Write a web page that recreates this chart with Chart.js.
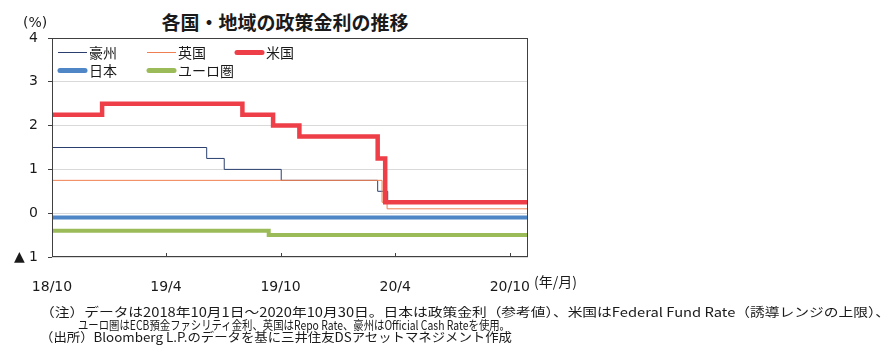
<!DOCTYPE html>
<html><head><meta charset="utf-8">
<script src="https://cdn.jsdelivr.net/npm/chart.js@4"></script>
<style>
html,body{margin:0;padding:0;background:#fff;}
#wrap{position:relative;width:895px;height:359px;overflow:hidden;background:#fff;}
canvas{position:absolute;left:0;top:0;}
.t{position:absolute;white-space:nowrap;font-family:"Noto Sans CJK JP",sans-serif;color:#1a1a1a;}
#title{left:0;width:570px;text-align:center;top:9px;font-size:19px;font-weight:bold;line-height:26px;}
.note{font-size:12.5px;line-height:14px;transform-origin:0 50%;}
</style></head>
<body><div id="wrap">
<div class="t" id="title">各国・地域の政策金利の推移</div>
<canvas id="c" width="895" height="359"></canvas>
<div class="t note" data-w="850" style="left:40px;top:305px">（注）データは2018年10月1日～2020年10月30日。日本は政策金利（参考値）、米国はFederal Fund Rate（誘導レンジの上限）、</div>
<div class="t note" data-w="432" style="left:78px;top:318px">ユーロ圏はECB預金ファシリティ金利、英国はRepo Rate、豪州はOfficial Cash Rateを使用。</div>
<div class="t note" data-w="472" style="left:40px;top:330px">（出所）Bloomberg L.P.のデータを基に三井住友DSアセットマネジメント作成</div>
</div>
<script>
// ---- data ----
const startDate = '2018-10-01';
const endDate = '2020-10-30';
const seriesNames = ['豪州', '英国', '米国', '日本', 'ユーロ圏'];
const ausDates = ['2018-10-01', '2019-06-05', '2019-07-03', '2019-10-02', '2020-03-04', '2020-03-20'];
const ausRates = [1.50, 1.25, 1.00, 0.75, 0.50, 0.25];
const ukDates = ['2018-10-01', '2020-03-11', '2020-03-19'];
const ukRates = [0.75, 0.25, 0.10];
const usDates = ['2018-10-01', '2018-12-20', '2019-08-01', '2019-09-19', '2019-10-31', '2020-03-04', '2020-03-16'];
const usRates = [2.25, 2.50, 2.25, 2.00, 1.75, 1.25, 0.25];
const jpDates = ['2018-10-01'];
const jpRates = [-0.10];
const euDates = ['2018-10-01', '2019-09-12'];
const euRates = [-0.40, -0.50];
const xTickDates = ['2018-10-01', '2019-04-01', '2019-10-01', '2020-04-01', '2020-10-01'];
const xTickLabels = ['18/10', '19/4', '19/10', '20/4', '20/10'];

// ---- helpers ----
function day(s) {
  const [y, m, d] = s.split('-').map(Number);
  const [y0, m0, d0] = startDate.split('-').map(Number);
  return (Date.UTC(y, m - 1, d) - Date.UTC(y0, m0 - 1, d0)) / 86400000;
}
const endDay = day(endDate);
function pts(dates, vals) {
  const p = dates.map((d, i) => ({ x: day(d), y: vals[i] }));
  p.push({ x: endDay, y: vals[vals.length - 1] });
  return p;
}
const xTickDays = xTickDates.map(day);

const ds = (label, dates, vals, color, width, order) => ({
  label, data: pts(dates, vals), borderColor: color, backgroundColor: color,
  borderWidth: width, stepped: true, pointRadius: 0, fill: false, order,
  borderCapStyle: 'butt', borderJoinStyle: 'miter'
});

const extras = {
  id: 'extras',
  afterDraw(chart) {
    const { ctx, chartArea: a, scales: { x } } = chart;
    ctx.save();
    ctx.strokeStyle = '#404040';
    ctx.lineWidth = 1;
    xTickDays.forEach(v => {
      const px = Math.round(x.getPixelForValue(v)) + 0.5;
      ctx.beginPath(); ctx.moveTo(px, a.bottom); ctx.lineTo(px, a.bottom - 4); ctx.stroke();
    });
    ctx.strokeRect(Math.round(a.left) + 0.5, Math.round(a.top) + 0.5,
      Math.round(a.right - a.left) - 1, Math.round(a.bottom - a.top) - 1);
    // legend
    const cols = [a.left + 6, a.left + 95, a.left + 183];
    const rows = [a.top + 14, a.top + 32];
    ctx.font = '14px "Noto Sans CJK JP"';
    ctx.textBaseline = 'middle';
    ctx.textAlign = 'left';
    chart.data.datasets.forEach((d, i) => {
      const r = i < 3 ? 0 : 1, c = i < 3 ? i : i - 3;
      const x0 = cols[c], y0 = rows[r];
      ctx.strokeStyle = d.borderColor;
      ctx.lineWidth = d.borderWidth > 2 ? 5 : 1;
      ctx.lineCap = d.borderWidth > 2 ? 'round' : 'butt';
      ctx.beginPath(); ctx.moveTo(x0 + (d.borderWidth > 2 ? 2 : 0), y0 + 0.5);
      ctx.lineTo(x0 + 29 - (d.borderWidth > 2 ? 2 : 0), y0 + 0.5); ctx.stroke();
      ctx.fillStyle = '#1a1a1a';
      ctx.fillText(d.label, x0 + 31, y0 + 1);
    });
    ctx.font = '14px "DejaVu Sans"';
    ctx.fillText('(%)', 23, 23);
    ctx.font = '14px "Noto Sans CJK JP"';
    ctx.fillText('(年/月)', 534, 282);
    ctx.restore();
  }
};

new Chart(document.getElementById('c'), {
  type: 'line',
  data: {
    datasets: [
      ds(seriesNames[0], ausDates, ausRates, '#2a3f6e', 1, 2),
      ds(seriesNames[1], ukDates, ukRates, '#ef7f50', 1, 1),
      ds(seriesNames[2], usDates, usRates, '#ee3f48', 4.5, 0),
      ds(seriesNames[3], jpDates, jpRates, '#4f86c6', 4, 3),
      ds(seriesNames[4], euDates, euRates, '#9bbb59', 4, 3)
    ]
  },
  options: {
    responsive: false,
    animation: false,
    events: [],
    layout: { padding: { left: 0, top: 38, right: 367, bottom: 0 } },
    plugins: { legend: { display: false }, title: { display: false }, tooltip: { enabled: false } },
    scales: {
      x: {
        type: 'linear', min: 0, max: endDay,
        grid: { display: false },
        border: { display: false },
        afterBuildTicks: s => { s.ticks = xTickDays.map(v => ({ value: v })); },
        afterFit: s => { s.height = 102; },
        ticks: {
          autoSkip: false, maxRotation: 0, padding: 14, color: '#1a1a1a',
          font: { family: 'DejaVu Sans', size: 14 },
          callback: (v, i) => xTickLabels[i]
        }
      },
      y: {
        min: -1, max: 4,
        grid: { color: '#d9d9d9', tickColor: '#404040', tickLength: 4, lineWidth: 1 },
        border: { display: false },
        afterFit: s => { s.width = 52; },
        ticks: {
          stepSize: 1, padding: 10, color: '#1a1a1a',
          font: { family: 'DejaVu Sans', size: 14 },
          callback: v => v < 0 ? '▲ ' + Math.abs(v) : String(v)
        }
      }
    }
  },
  plugins: [extras]
});

function fitNotes() {
  document.querySelectorAll('.note').forEach(el => {
    el.style.transform = 'none';
    const w = el.getBoundingClientRect().width;
    el.style.transform = 'scaleX(' + (+el.dataset.w / w) + ')';
  });
}
fitNotes();
if (document.fonts && document.fonts.ready) document.fonts.ready.then(fitNotes);
</script>
</body></html>
